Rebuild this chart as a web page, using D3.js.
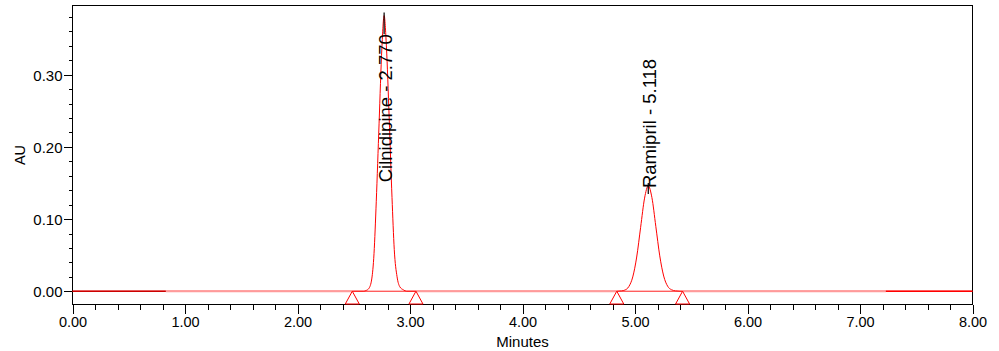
<!DOCTYPE html>
<html><head><meta charset="utf-8">
<script src="https://cdn.jsdelivr.net/npm/d3@7"></script>
<style>
body{margin:0;background:#fff}
svg{display:block}
text{font-family:"Liberation Sans",Arial,sans-serif;fill:#000}
</style>
</head><body>
<svg id="c" width="999" height="351"></svg>
<script>
// ---- data ----
const traceTimes = [0.00, 1.00, 2.00, 2.50, 2.59, 2.61, 2.635, 2.66, 2.68, 2.70, 2.725, 2.75, 2.77, 2.79, 2.815, 2.84, 2.86, 2.885, 2.91, 2.94, 2.97, 3.10, 4.00, 4.80, 4.84, 4.88, 4.91, 4.945, 4.98, 5.015, 5.05, 5.085, 5.118, 5.15, 5.185, 5.22, 5.255, 5.29, 5.325, 5.36, 5.40, 5.50, 6.50, 8.00];
const traceAU    = [0.000, 0.000, 0.000, 0.000, 0.000, 0.001, 0.004, 0.017, 0.052, 0.124, 0.232, 0.337, 0.382, 0.340, 0.240, 0.130, 0.058, 0.020, 0.006, 0.002, 0.000, 0.000, 0.000, 0.000, 0.000, 0.0005, 0.0016, 0.0064, 0.0198, 0.0474, 0.0886, 0.129, 0.146, 0.130, 0.090, 0.049, 0.021, 0.007, 0.002, 0.0005, 0.000, 0.000, 0.000, 0.000];
const peakNames   = ["Cilnidipine", "Ramipril"];
const peakRT      = [2.770, 5.118];
const peakApexAU  = [0.382, 0.146];
const peakStart   = [2.487, 4.838];
const peakEnd     = [3.053, 5.423];
const labelBaseAU = [0.151, 0.143];
const baselineBreaks = [0.83, 7.23];
const xMajorTicks = [0, 1, 2, 3, 4, 5, 6, 7, 8];
const xMinorTicks = [0.2,0.4,0.6,0.8,1.2,1.4,1.6,1.8,2.2,2.4,2.6,2.8,3.2,3.4,3.6,3.8,4.2,4.4,4.6,4.8,5.2,5.4,5.6,5.8,6.2,6.4,6.6,6.8,7.2,7.4,7.6,7.8];
const yMajorTicks = [0.00, 0.10, 0.20, 0.30];
const yMinorTicks = [0.02,0.04,0.06,0.08,0.12,0.14,0.16,0.18,0.22,0.24,0.26,0.28,0.32,0.34,0.36,0.38];

// ---- layout ----
const L = 72.5, R = 972.5, T = 5.5, B = 304.5;
const svg = d3.select("#c");
const x = d3.scaleLinear().domain([0, 8]).range([L, R]);
const y = d3.scaleLinear().domain([-0.0184, 0.396]).range([B, T]);

// frame
svg.append("rect").attr("x", L).attr("y", T).attr("width", R - L).attr("height", B - T)
  .attr("fill", "none").attr("stroke", "#000").attr("stroke-width", 1).attr("shape-rendering", "crispEdges");

// axes
const fmt = d3.format(".2f");
const gx = svg.append("g").attr("transform", `translate(0,${B})`)
  .call(d3.axisBottom(x).tickValues(xMajorTicks).tickFormat(fmt).tickSize(9).tickPadding(3));
svg.append("g").attr("transform", `translate(0,${B})`)
  .call(d3.axisBottom(x).tickValues(xMinorTicks).tickFormat("").tickSize(5));
const gy = svg.append("g").attr("transform", `translate(${L},0)`)
  .call(d3.axisLeft(y).tickValues(yMajorTicks).tickFormat(fmt).tickSize(9).tickPadding(1));
svg.append("g").attr("transform", `translate(${L},0)`)
  .call(d3.axisLeft(y).tickValues(yMinorTicks).tickFormat("").tickSize(4));
svg.selectAll(".domain").remove();
svg.selectAll(".tick line").attr("stroke", "#000").attr("shape-rendering", "crispEdges");
gx.selectAll(".tick text").attr("font-size", "14.5px").attr("fill", "#000");
gy.selectAll(".tick text").attr("font-size", "15px").attr("fill", "#000").attr("dy", "0.36em");

// axis titles
svg.append("text").attr("x", (L + R) / 2 + 0).attr("y", 347).attr("text-anchor", "middle")
  .attr("font-size", "15px").text("Minutes");
svg.append("text").attr("transform", `translate(25,${(T + B) / 2}) rotate(-90)`)
  .attr("text-anchor", "middle").attr("font-size", "14.5px").text("AU");

// trace
const pts = traceTimes.map((t, i) => [t, traceAU[i]]);
const line = d3.line().x(d => x(d[0])).y(d => y(d[1])).curve(d3.curveMonotoneX);
svg.append("path").datum(pts).attr("d", line).attr("fill", "none")
  .attr("stroke", "#ff0000").attr("stroke-width", 1);

// baseline segments
const y0 = y(0);
function seg(a, b, col, w) {
  svg.append("line").attr("x1", x(a)).attr("x2", x(b)).attr("y1", y0).attr("y2", y0)
    .attr("stroke", col).attr("stroke-width", w);
}
seg(0, baselineBreaks[0], "#cc0000", 1.5);
seg(baselineBreaks[0], peakStart[0], "#ff9a9a", 2);
seg(peakEnd[0], peakStart[1], "#ff9a9a", 2);
seg(peakEnd[1], baselineBreaks[1], "#ff9a9a", 2);
seg(baselineBreaks[1], 8, "#ff0000", 1.5);
peakStart.forEach((s, i) => seg(s, peakEnd[i], "#ff2020", 1));

// integration markers (triangles)
const marks = peakStart.concat(peakEnd);
svg.selectAll("path.tri").data(marks).enter().append("path").attr("class", "tri")
  .attr("d", t => `M${x(t)},${y0}L${x(t) - 7},${B - 0.5}L${x(t) + 7},${B - 0.5}Z`)
  .attr("fill", "#fff").attr("stroke", "#ff0000").attr("stroke-width", 1);

// peak labels
peakNames.forEach((n, i) => {
  const px = x(peakRT[i]);
  const ly = y(labelBaseAU[i]);
  const txt = svg.append("text")
    .attr("transform", `translate(${px + 7.5},${ly}) rotate(-90)`)
    .attr("font-size", "18.5px").text(`${n} - ${peakRT[i].toFixed(3)}`);
  const len = txt.node().getComputedTextLength();
  const ya = y(peakApexAU[i]);
  const yEnd = Math.max(ya + 8, ly - len);
  svg.append("line").attr("x1", px).attr("x2", px).attr("y1", ya - 3).attr("y2", yEnd)
    .attr("stroke", "#000").attr("stroke-width", 1.2);
});
</script>
</body></html>
